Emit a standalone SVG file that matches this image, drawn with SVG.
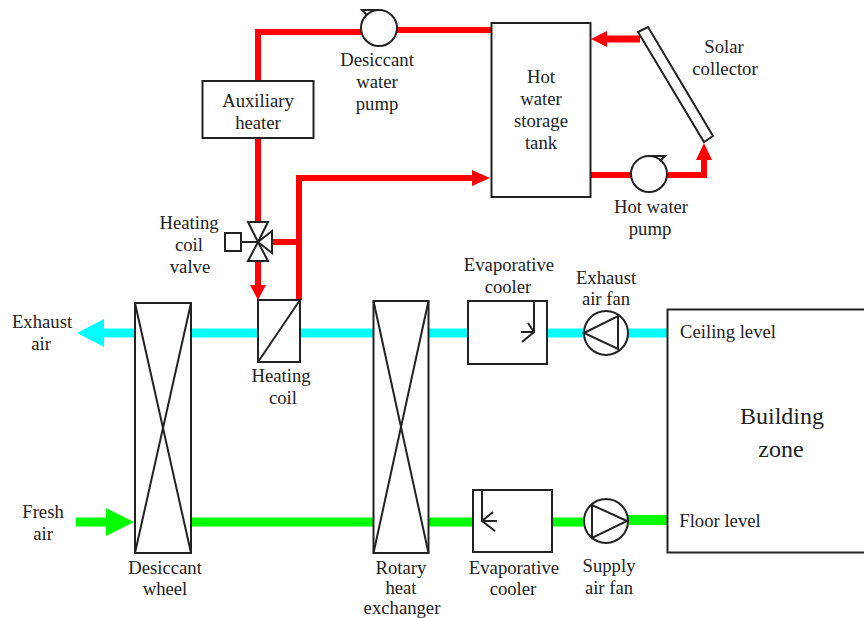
<svg xmlns="http://www.w3.org/2000/svg" width="864" height="618" viewBox="0 0 864 618">
<style>
text{font-family:"Liberation Serif","Times New Roman",serif;font-size:18.700px;fill:#222;text-anchor:middle}
.b{fill:#fff;stroke:#222;stroke-width:2}
.n{fill:none;stroke:#222;stroke-width:2}
.r{fill:none;stroke:#f00;stroke-width:6}
.c{fill:none;stroke:#0ff;stroke-width:9}
.g{fill:none;stroke:#0f0;stroke-width:9}
</style>
<rect width="864" height="618" fill="#fff"/>
<g id="connectors">
<path class="r" d="M362 32H258V81M394 30H491M258 138V222M272 242H299M299 300V178H472M258 261V286M591 175H632M665 175H704V158"/>
<path d="M640 39H604" fill="none" stroke="#f00" stroke-width="7"/>
<polygon fill="#f00" points="490,178 472,170 472,186"/>
<polygon fill="#f00" points="258,300 250,285 266,285"/>
<polygon fill="#f00" points="591,39 607,31 607,47"/>
<polygon fill="#f00" points="704,143 696,160 712,160"/>
<path class="c" d="M104 333H135M191 333H258M300 333H373M429 333H468M547 333H584M628 333H667"/>
<polygon fill="#0ff" points="77,333 104,319 104,347"/>
<path class="g" d="M76 522H107M191 522H373M429 522H473M552 522H583"/>
<path d="M628 520H667" fill="none" stroke="#0f0" stroke-width="10"/>
<polygon fill="#0f0" points="134,522 106,508 106,536"/>
</g>
<g id="desiccant-pump"><circle class="b" cx="379" cy="28" r="18"/><path class="n" d="M380 10H362L367 15"/><text x="377" y="66">Desiccant</text><text x="377" y="88">water</text><text x="377" y="110">pump</text></g>
<g id="auxiliary-heater"><rect class="b" x="202.500" y="81" width="111" height="57"/><text x="258" y="107">Auxiliary</text><text x="258" y="129">heater</text></g>
<g id="heating-coil-valve"><rect class="b" x="225" y="233" width="16" height="18"/><path class="n" d="M241 242H258"/><polygon class="b" points="248,222 268,222 258,242"/><polygon class="b" points="248,261 268,261 258,242"/><polygon class="b" points="272,231 272,253 258,242"/><text x="189" y="229">Heating</text><text x="189" y="251">coil</text><text x="190" y="273">valve</text></g>
<g id="hot-water-tank"><rect class="b" x="491.500" y="23" width="99" height="174"/><text x="541" y="83">Hot</text><text x="541" y="105">water</text><text x="541" y="127">storage</text><text x="541" y="149">tank</text></g>
<g id="solar-collector"><polygon class="b" points="638,32 648,27 713,136 704,142"/><text x="724" y="53">Solar</text><text x="725" y="75">collector</text></g>
<g id="hot-water-pump"><circle class="b" cx="649" cy="174" r="18"/><path class="n" d="M649 156H665L660 161"/><text x="651" y="213">Hot water</text><text x="650" y="235">pump</text></g>
<g id="desiccant-wheel"><rect class="b" x="135" y="303" width="56" height="250"/><path class="n" d="M135 303L191 553M191 303L135 553"/><text x="165" y="574">Desiccant</text><text x="165" y="595">wheel</text></g>
<g id="heating-coil"><rect class="b" x="258" y="300" width="42" height="62"/><path class="n" d="M258 362L300 300"/><text x="281" y="382">Heating</text><text x="283" y="404">coil</text></g>
<g id="rotary-heat-exchanger"><rect class="b" x="373.500" y="301" width="55" height="252"/><path class="n" d="M373.500 301L428.500 553M428.500 301L373.500 553"/><text x="401" y="574">Rotary</text><text x="401" y="594">heat</text><text x="402" y="614">exchanger</text></g>
<g id="evaporative-cooler-exhaust"><rect class="b" x="468" y="301" width="79" height="63"/><path class="n" d="M534 301V332M528 323L534 332L522 342M521 332H534"/><text x="509" y="271">Evaporative</text><text x="508" y="293">cooler</text></g>
<g id="exhaust-air-fan"><circle class="b" cx="606" cy="333" r="22"/><polygon class="n" points="584,333 618,316 618,349"/><text x="606" y="284">Exhaust</text><text x="606" y="305">air fan</text></g>
<g id="evaporative-cooler-supply"><rect class="b" x="473" y="490" width="79" height="62"/><path class="n" d="M482 490V521M493 512L482 521L495 531M482 521H497"/><text x="514" y="574">Evaporative</text><text x="513" y="595">cooler</text></g>
<g id="supply-air-fan"><circle class="b" cx="606" cy="521" r="22"/><polygon class="n" points="627,521 592,505 592,538"/><text x="609" y="572">Supply</text><text x="609" y="594">air fan</text></g>
<g id="building-zone"><rect class="b" x="667.500" y="309.500" width="200" height="243"/><text x="728" y="338">Ceiling level</text><text x="720" y="527">Floor level</text><text x="782" y="424" style="font-size:24px">Building</text><text x="781" y="457" style="font-size:24px">zone</text></g>
<g id="exhaust-air-label"><text x="42" y="328">Exhaust</text><text x="41" y="350">air</text></g>
<g id="fresh-air-label"><text x="43" y="518">Fresh</text><text x="43" y="540">air</text></g>
</svg>
